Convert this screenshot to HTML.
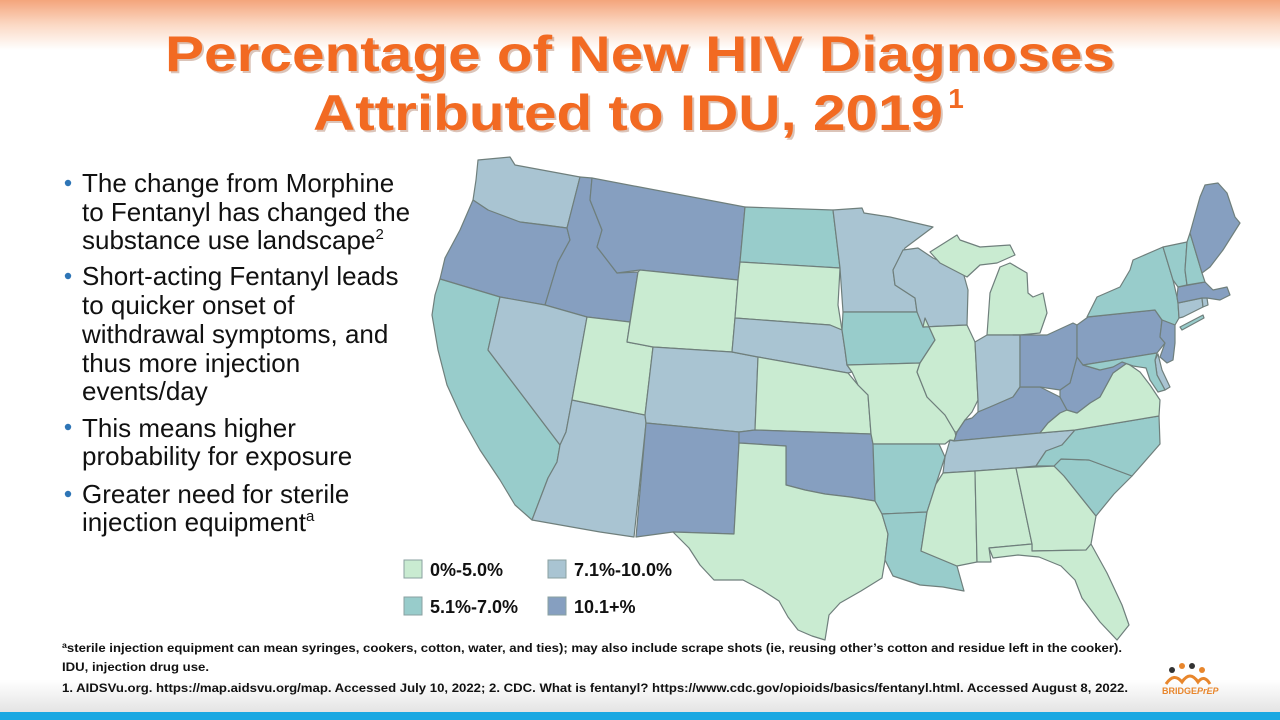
<!DOCTYPE html>
<html><head><meta charset="utf-8"><style>
html,body{margin:0;padding:0;background:#fff;}
svg{display:block;}
</style></head><body>
<svg id="slide" width="1280" height="720" viewBox="0 0 1280 720" xmlns="http://www.w3.org/2000/svg">
<defs>
<linearGradient id="hdr" x1="0" y1="0" x2="0" y2="1">
<stop offset="0" stop-color="#f4a57c"/><stop offset="0.5" stop-color="#fbd9c5"/><stop offset="1" stop-color="#ffffff"/>
</linearGradient>
<linearGradient id="ftr" x1="0" y1="0" x2="0" y2="1">
<stop offset="0" stop-color="#ffffff"/><stop offset="1" stop-color="#e4e4e4"/>
</linearGradient>
</defs>
<rect x="0" y="0" width="1280" height="50" fill="url(#hdr)"/>
<rect x="0" y="680" width="1280" height="32" fill="url(#ftr)"/>
<rect x="0" y="712" width="1280" height="8" fill="#19a8e2"/>

<g font-family="Liberation Sans, Arial, sans-serif" font-weight="bold" font-size="50" text-anchor="middle">
<text x="642" y="73" fill="#9a5a3a" opacity="0.35" textLength="950" lengthAdjust="spacingAndGlyphs">Percentage of New HIV Diagnoses</text>
<text x="640" y="71" fill="#f26a22" textLength="950" lengthAdjust="spacingAndGlyphs">Percentage of New HIV Diagnoses</text>
<text x="630" y="132" fill="#9a5a3a" opacity="0.35" textLength="630" lengthAdjust="spacingAndGlyphs">Attributed to IDU, 2019</text>
<text x="628" y="130" fill="#f26a22" textLength="630" lengthAdjust="spacingAndGlyphs">Attributed to IDU, 2019</text>
<text x="956" y="108" fill="#f26a22" font-size="28">1</text>
</g>

<g font-family="Liberation Sans, Arial, sans-serif" font-size="26" fill="#111">
<g>
<circle cx="68" cy="183" r="3.2" fill="#2e75b6"/>
<text x="82" y="192">The change from Morphine</text>
<text x="82" y="221">to Fentanyl has changed the</text>
<text x="82" y="249">substance use landscape<tspan font-size="15" dy="-10">2</tspan></text>
</g>
<g>
<circle cx="68" cy="276" r="3.2" fill="#2e75b6"/>
<text x="82" y="285">Short-acting Fentanyl leads</text>
<text x="82" y="314">to quicker onset of</text>
<text x="82" y="343">withdrawal symptoms, and</text>
<text x="82" y="372">thus more injection</text>
<text x="82" y="400">events/day</text>
</g>
<g>
<circle cx="68" cy="427" r="3.2" fill="#2e75b6"/>
<text x="82" y="437">This means higher</text>
<text x="82" y="465">probability for exposure</text>
</g>
<g>
<circle cx="68" cy="494" r="3.2" fill="#2e75b6"/>
<text x="82" y="503">Greater need for sterile</text>
<text x="82" y="531">injection equipment<tspan font-size="15" dy="-10">a</tspan></text>
</g>
</g>

<g id="map"></g>

<g id="legend" font-family="Liberation Sans, Arial, sans-serif" font-weight="bold" font-size="18" fill="#111"></g>

<g font-family="Liberation Sans, Arial, sans-serif" font-weight="bold" font-size="12" fill="#111">
<text x="62" y="652" textLength="1060" lengthAdjust="spacingAndGlyphs"><tspan font-size="8" dy="-4">a</tspan><tspan dy="4">sterile injection equipment can mean syringes, cookers, cotton, water, and ties); may also include scrape shots (ie, reusing other’s cotton and residue left in the cooker).</tspan></text>
<text x="62" y="671" textLength="147" lengthAdjust="spacingAndGlyphs">IDU, injection drug use.</text>
<text x="62" y="692" textLength="1066" lengthAdjust="spacingAndGlyphs">1. AIDSVu.org. https://map.aidsvu.org/map. Accessed  July 10, 2022; 2. CDC. What is fentanyl? https://www.cdc.gov/opioids/basics/fentanyl.html.  Accessed  August 8, 2022.</text>
</g>

<g>
<circle cx="1172" cy="670" r="3" fill="#333"/><circle cx="1182" cy="666" r="3" fill="#e8862c"/><circle cx="1192" cy="666" r="3" fill="#333"/><circle cx="1202" cy="670" r="3" fill="#e8862c"/>
<path d="M1166 684 Q1174 672 1182 682 Q1190 670 1198 682 Q1204 674 1210 684" fill="none" stroke="#e8862c" stroke-width="3"/>
<text x="1162" y="694" font-family="Liberation Sans, Arial, sans-serif" font-weight="bold" font-size="9" fill="#e8862c">BRIDGE<tspan font-style="italic">PrEP</tspan></text>
</g>
</svg>
<script>
// Data: estimated % of new HIV diagnoses attributed to IDU (binned reading)
const stateCodes = ["WA","OR","CA","ID","NV","AZ","UT","MT","WY","CO","NM","ND","SD","NE","KS","OK","TX","MN","IA","MO","AR","LA","WI","IL","MI","IN","KY","TN","MS","AL","GA","FL","SC","NC","VA","WV","OH","PA","NY","NJ","DE","MD","CT","RI","MA","VT","NH","ME"];
const iduPct = [8.5,11.5,6.0,12.0,8.0,9.0,4.5,14.0,4.0,8.5,11.0,6.5,4.5,8.0,4.5,11.0,4.0,8.0,6.0,4.5,6.5,6.0,8.0,4.0,4.5,9.0,13.0,8.5,3.5,4.0,3.5,4.5,6.5,6.0,4.5,16.0,11.0,11.5,6.0,10.5,8.5,6.5,8.0,8.0,11.0,6.5,6.5,14.0];
const binLimits = [5.0,7.0,10.0];
const binColors = ["#c9ebd1","#98cccb","#a9c4d2","#869fc0"];
const legendLabels = ["0%-5.0%","5.1%-7.0%","7.1%-10.0%","10.1+%"];

// Geometry (state outlines, approximate, in slide pixel coordinates)
const shapes = {
WA:[[478,160,510,157,515,165,580,177,567,228,545,225,520,222,495,218,488,210,473,200,476,180]],
OR:[[473,200,488,210,520,222,567,228,570,240,558,262,545,305,500,297,440,279,445,258,460,230]],
CA:[[440,279,500,297,488,350,560,445,557,462,548,478,532,520,515,505,500,480,480,450,462,418,447,385,438,350,432,315,435,295]],
ID:[[580,177,592,178,590,200,602,230,597,247,617,273,638,272,630,322,587,317,545,305,558,262,570,240,567,228]],
NV:[[500,297,545,305,587,317,572,400,566,432,560,445,488,350]],
AZ:[[572,400,645,415,646,423,634,537,600,532,532,520,548,478,557,462,560,445,566,432]],
UT:[[587,317,630,322,627,342,653,347,645,415,572,400]],
MT:[[592,178,745,207,740,262,738,280,640,270,617,273,597,247,602,230,590,200]],
WY:[[638,272,640,270,738,280,735,318,732,352,653,347,627,342]],
CO:[[653,347,732,352,758,357,755,430,739,432,646,423,645,415]],
NM:[[646,423,739,432,739,443,734,534,673,532,636,537]],
ND:[[745,207,833,210,840,268,740,262]],
SD:[[740,262,840,268,838,305,842,330,830,325,735,318,738,280]],
NE:[[735,318,830,325,842,330,845,350,847,365,852,372,848,373,758,357,732,352]],
KS:[[758,357,848,373,858,385,868,395,871,434,755,430]],
OK:[[739,432,755,430,871,434,873,444,875,501,850,497,825,494,805,490,786,485,786,446,739,443]],
TX:[[739,443,786,446,786,485,805,490,825,494,850,497,875,501,882,514,888,534,885,560,882,578,861,591,840,603,829,615,825,640,812,636,798,630,788,617,779,601,762,590,743,580,714,580,700,565,689,548,673,532,734,534]],
MN:[[833,210,862,208,864,213,890,217,933,227,905,248,893,270,895,285,915,298,917,312,843,312,840,268]],
IA:[[843,312,917,312,925,318,935,340,920,363,847,365,845,350,842,330]],
MO:[[847,365,920,363,917,372,927,397,945,415,955,432,957,441,950,440,945,444,939,444,873,444,871,434,868,395,858,385,852,372]],
AR:[[873,444,939,444,945,457,936,484,927,512,882,514,875,501]],
LA:[[882,514,927,512,921,551,957,566,964,591,943,587,920,585,893,576,885,560,888,534]],
WI:[[893,270,903,250,918,248,933,258,963,272,968,290,967,325,923,327,917,312,915,298,895,285]],
IL:[[923,327,967,325,975,342,978,400,972,412,965,420,957,432,955,432,945,415,927,397,917,372,920,363,935,340,925,318]],
MI:[[987,335,990,293,1000,267,1010,263,1027,273,1028,293,1033,297,1043,293,1047,313,1040,333,1020,335],[930,252,957,235,960,240,980,247,1010,245,1015,255,997,263,980,265,967,277,940,263]],
IN:[[975,342,987,335,1020,335,1020,387,1013,397,990,407,978,412,978,400]],
KY:[[957,432,965,420,972,418,978,412,990,407,1013,397,1020,387,1040,387,1060,397,1067,410,1060,413,1048,423,1040,433,954,441]],
TN:[[954,441,1040,433,1075,430,1062,445,1046,451,1036,466,1016,468,975,471,943,473,945,457,950,440]],
MS:[[943,473,975,471,977,562,957,566,921,551,927,512,936,484]],
AL:[[975,471,1016,468,1032,544,989,548,991,562,977,562]],
GA:[[1016,468,1054,466,1064,476,1096,516,1091,544,1086,550,1032,551,1032,544]],
FL:[[989,548,1032,544,1032,551,1086,550,1091,544,1107,573,1122,605,1129,625,1117,640,1100,622,1082,598,1075,580,1061,566,1039,557,1018,555,993,558]],
SC:[[1054,466,1061,459,1089,460,1132,476,1114,494,1096,516,1064,476]],
NC:[[1036,466,1046,451,1062,445,1075,430,1159,416,1160,444,1132,476,1089,460,1061,459,1054,466]],
VA:[[1040,433,1048,423,1060,413,1067,410,1077,413,1090,403,1100,397,1113,373,1127,363,1140,372,1150,385,1160,400,1159,416,1075,430]],
WV:[[1060,390,1070,383,1077,357,1083,365,1100,370,1117,360,1127,363,1113,373,1100,397,1090,403,1077,413,1067,410,1060,397]],
OH:[[1013,335,1047,335,1073,323,1077,325,1077,357,1070,383,1060,390,1040,387,1020,387,1020,335]],
PA:[[1077,325,1088,317,1155,310,1162,320,1160,337,1165,343,1157,353,1083,365,1077,357]],
NY:[[1087,317,1097,297,1120,287,1130,270,1133,260,1163,247,1173,280,1177,297,1178,303,1179,318,1175,325,1162,320,1155,310],[1180,327,1203,315,1204,318,1182,330]],
NJ:[[1162,320,1175,325,1175,343,1173,360,1167,363,1160,357,1165,343,1160,337]],
DE:[[1158,354,1162,370,1170,387,1165,390,1157,375,1155,360]],
MD:[[1083,365,1157,353,1155,360,1157,375,1165,390,1158,392,1150,380,1146,368,1133,366,1122,362,1113,367,1100,370]],
CT:[[1178,303,1202,298,1203,307,1183,317,1179,318]],
RI:[[1202,298,1207,298,1208,305,1203,307]],
MA:[[1177,297,1178,287,1205,282,1213,290,1227,287,1230,295,1220,300,1207,298,1202,298,1178,303]],
VT:[[1163,247,1187,242,1185,270,1187,285,1178,287,1173,280]],
NH:[[1187,242,1190,233,1202,273,1205,282,1187,285,1185,270]],
ME:[[1190,233,1200,197,1205,185,1218,183,1227,193,1235,217,1240,223,1223,250,1210,267,1202,273]]
};

const NS = "http://www.w3.org/2000/svg";
function binIndex(v){ let i=0; while(i < binLimits.length && v > binLimits[i]) i++; return i; }
function colorFor(v){ return binColors[binIndex(v)]; }

const map = document.getElementById('map');
stateCodes.forEach(function(code, i) {
  const g = document.createElementNS(NS,'g');
  
  
  (shapes[code]||[]).forEach(function(poly) {
    const p = document.createElementNS(NS,'polygon');
    const s = [];
    for (let k=0; k < poly.length; k+=2) s.push(poly[k]+','+poly[k+1]);
    p.setAttribute('points', s.join(' '));
    p.setAttribute('fill', colorFor(iduPct[i]));
    p.setAttribute('stroke', '#6f7f7c');
    p.setAttribute('stroke-width', '1.2');
    p.setAttribute('stroke-linejoin', 'round');
    
    
    g.appendChild(p);
  });
  map.appendChild(g);
});

const legend = document.getElementById('legend');
const legendOrder = [0,2,1,3];
legendOrder.forEach(function(bin, j) {
  const col = j % 2, row = Math.floor(j / 2);
  const x = 404 + col*144, y = 560 + row*37;
  const r = document.createElementNS(NS,'rect');
  r.setAttribute('x', x); r.setAttribute('y', y);
  r.setAttribute('width', 18); r.setAttribute('height', 18);
  r.setAttribute('fill', binColors[bin]);
  r.setAttribute('stroke', '#8aa0a0'); r.setAttribute('stroke-width', '1');
  
  
  legend.appendChild(r);
  const t = document.createElementNS(NS,'text');
  t.setAttribute('x', x + 26); t.setAttribute('y', y + 16);
  t.textContent = legendLabels[bin];
  
  
  legend.appendChild(t);
});
</script>
</body></html>
